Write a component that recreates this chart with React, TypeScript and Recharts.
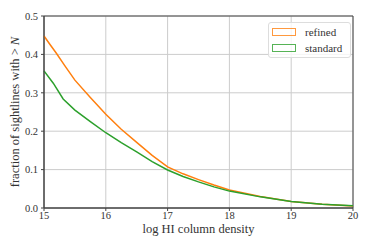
import React from "react";
import { LineChart, Line, XAxis, YAxis, CartesianGrid, ReferenceArea, Legend, Customized } from "recharts";

const refinedX = [15.0, 15.1, 15.2, 15.33, 15.5, 15.75, 16.0, 16.25, 16.5, 16.75, 17.0, 17.25, 17.5, 17.75, 18.0, 18.5, 19.0, 19.5, 20.0];
const refinedY = [0.448, 0.425, 0.403, 0.372, 0.333, 0.288, 0.244, 0.205, 0.171, 0.137, 0.107, 0.089, 0.074, 0.06, 0.047, 0.03, 0.017, 0.01, 0.005];
const standardX = [15.0, 15.15, 15.31, 15.5, 15.75, 16.0, 16.25, 16.5, 16.75, 17.0, 17.25, 17.5, 17.75, 18.0, 18.5, 19.0, 19.5, 20.0];
const standardY = [0.357, 0.325, 0.284, 0.255, 0.225, 0.196, 0.17, 0.146, 0.121, 0.099, 0.082, 0.068, 0.055, 0.044, 0.029, 0.017, 0.01, 0.006];
const xTicks = [15, 16, 17, 18, 19, 20];
const yTicks = [0, 0.1, 0.2, 0.3, 0.4, 0.5];
const seriesNames = ["refined", "standard"];
const seriesColors = ["#ff7f0e", "#2ca02c"];
const xLabel = "log HI column density";
const yLabelMain = "fraction of sightlines with > ";
const yLabelItalic = "N";

const refinedData = refinedX.map((x, i) => ({ x, y: refinedY[i] }));
const standardData = standardX.map((x, i) => ({ x, y: standardY[i] }));

const FONT = "Liberation Serif";

const LegendBox = () => (
  <div
    style={{
      position: "absolute",
      left: 268,
      top: 22,
      width: 83,
      height: 36,
      border: "1px solid #dddddd",
      borderRadius: 3,
      background: "rgba(255,255,255,0.8)",
      boxSizing: "border-box",
      fontFamily: FONT,
      fontSize: 11,
      color: "#333",
    }}
  >
    {seriesNames.map((name, i) => (
      <div key={name} style={{ position: "absolute", left: 3, top: 2 + i * 16, height: 14, display: "flex", alignItems: "center" }}>
        <div style={{ width: 24, height: 8, border: `1.5px solid ${seriesColors[i]}`, opacity: 0.8, boxSizing: "border-box" }} />
        <span style={{ marginLeft: 9, whiteSpace: "nowrap" }}>{name}</span>
      </div>
    ))}
  </div>
);

const YLabel = () => (
  <text
    x={15}
    y={112}
    transform="rotate(-90 15 112)"
    textAnchor="middle"
    dominantBaseline="central"
    style={{ fontFamily: FONT, fontSize: 12.5, fill: "#333" }}
  >
    {yLabelMain}
    <tspan style={{ fontStyle: "italic" }}>{yLabelItalic}</tspan>
  </text>
);

export default function App() {
  return (
    <div style={{ position: "absolute", left: 0, top: 0, width: 374, height: 249, fontFamily: FONT }}>
      <LineChart width={374} height={249} margin={{ top: 16, right: 21, bottom: 16, left: 14 }} style={{ fontFamily: FONT }}>
        <CartesianGrid stroke="#cccccc" strokeWidth={1} />
        <XAxis
          type="number"
          dataKey="x"
          domain={[15, 20]}
          ticks={xTicks}
          allowDuplicatedCategory={false}
          height={25}
          tickSize={3}
          tickMargin={1}
          stroke="#444"
          tick={{ fill: "#333", fontSize: 10.5, style: { fontFamily: FONT } }}
          label={{ value: xLabel, position: "insideBottom", offset: 0, fill: "#333", fontSize: 12.5, style: { fontFamily: FONT } }}
        />
        <YAxis
          type="number"
          domain={[0, 0.5]}
          ticks={yTicks}
          width={30}
          tickSize={3}
          tickMargin={3}
          stroke="#444"
          tickFormatter={(v: number) => v.toFixed(1)}
          tick={{ fill: "#333", fontSize: 10.5, style: { fontFamily: FONT } }}
        />
        <ReferenceArea x1={15} x2={20} y1={0} y2={0.5} fill="none" stroke="#444" strokeWidth={1} ifOverflow="visible" />
        <Line data={refinedData} dataKey="y" name={seriesNames[0]} stroke={seriesColors[0]} strokeWidth={1.5} dot={false} type="linear" isAnimationActive={false} />
        <Line data={standardData} dataKey="y" name={seriesNames[1]} stroke={seriesColors[1]} strokeWidth={1.5} dot={false} type="linear" isAnimationActive={false} />
        <Customized component={YLabel} />
        <Legend content={() => <LegendBox />} wrapperStyle={{ position: "absolute", left: 0, top: 0, width: 0, height: 0 }} />
      </LineChart>
    </div>
  );
}
